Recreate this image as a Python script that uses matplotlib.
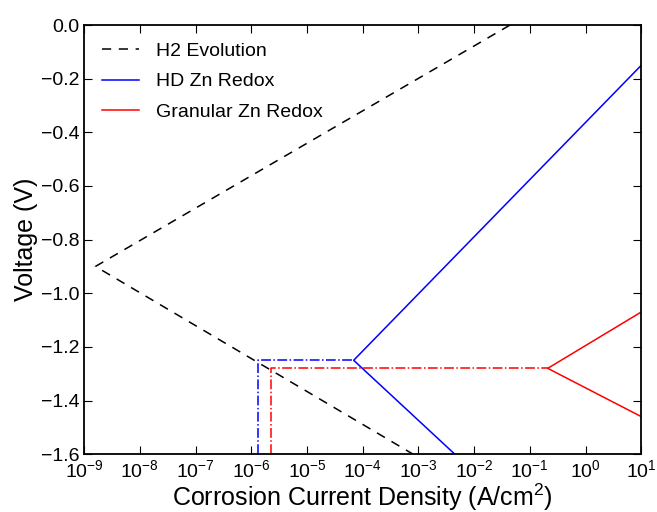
import numpy as np
import matplotlib
matplotlib.use("Agg")
import matplotlib.pyplot as plt

plt.rcParams['font.family'] = ['Liberation Sans', 'DejaVu Sans']
plt.rcParams['mathtext.default'] = 'regular'

# Tafel lines (current density A/cm^2, voltage V)
h2_i = [4.4e-2, 1.6e-9, 8.0e-4]
h2_v = [0.0, -0.90, -1.60]

hd_i = [10.0, 6.9e-5, 4.5e-3]
hd_v = [-0.15, -1.25, -1.60]

gran_i = [10.0, 0.21, 10.0]
gran_v = [-1.07, -1.28, -1.46]

# corrosion point guides
hd_corr_i = [1.3e-6, 1.3e-6, 6.9e-5]
hd_corr_v = [-1.60, -1.25, -1.25]
gran_corr_i = [2.3e-6, 2.3e-6, 0.21]
gran_corr_v = [-1.60, -1.28, -1.28]


def volt_fmt(v, pos):
    s = '%.1f' % abs(v)
    if round(v, 2) < 0:
        s = '\u2212' + s
    return s


fig = plt.figure(figsize=(6.57, 5.12), dpi=100)
ax = fig.add_axes([0.128, 0.113, 0.848, 0.838])

ax.plot(h2_i, h2_v, 'k--', lw=1.1, dashes=(6, 5), label='H2 Evolution')
ax.plot(hd_i, hd_v, color='#0000ff', lw=1.1, label='HD Zn Redox')
ax.plot(gran_i, gran_v, color='#ff0000', lw=1.1, label='Granular Zn Redox')
ax.plot(hd_corr_i, hd_corr_v, color='#0000ff', ls='-.', lw=1.1)
ax.plot(gran_corr_i, gran_corr_v, color='#ff0000', ls='-.', lw=1.1)

ax.set_xscale('log')
ax.set_xlim(1e-9, 10)
ax.set_ylim(-1.6, 0.0)
ax.set_xticks([10.0**k for k in range(-9, 2)])
ax.set_yticks(np.arange(-1.6, 0.01, 0.2))
ax.yaxis.set_major_formatter(matplotlib.ticker.FuncFormatter(volt_fmt))

for sp in ax.spines.values():
    sp.set_linewidth(1.3)
ax.tick_params(which='both', direction='in', top=True, right=True, labelsize=14)
ax.tick_params(which='major', length=6)
ax.tick_params(which='minor', length=3)
ax.tick_params(axis='x', pad=4)

ax.set_xlabel('Corrosion Current Density (A/cm$^2$)', fontsize=18, labelpad=0)
ax.set_ylabel('Voltage (V)', fontsize=18, labelpad=2)

ax.legend(loc='upper left', frameon=False, fontsize=14, handlelength=1.9,
          handletextpad=0.9, labelspacing=0.65, borderaxespad=0.5)

fig.savefig('out.png', dpi=100)
